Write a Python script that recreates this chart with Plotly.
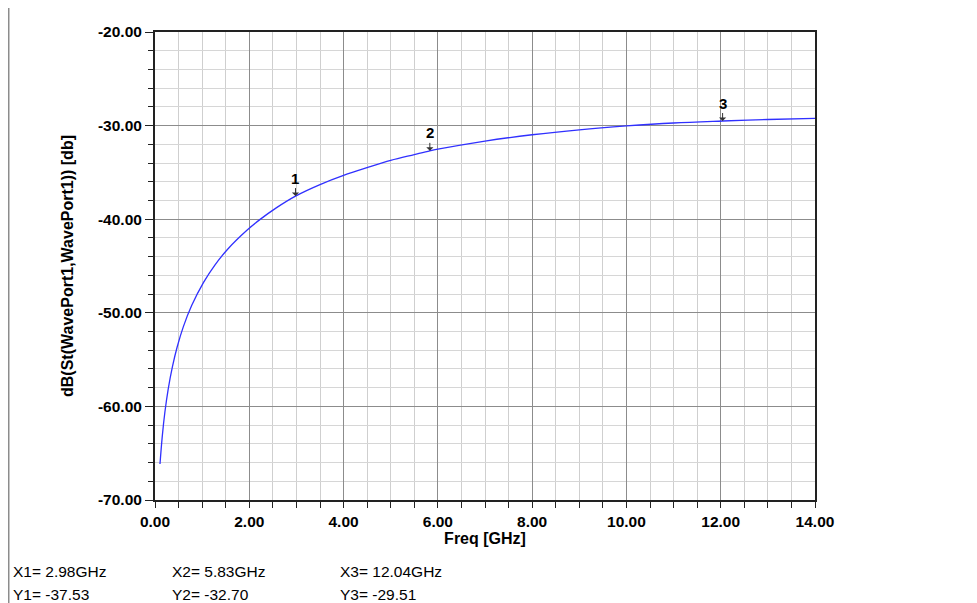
import plotly.graph_objects as go

# S11 sweep
freq_ghz = [0.106, 0.155, 0.21, 0.28, 0.37, 0.47, 0.6, 0.78, 1.03, 1.27, 1.56, 1.95, 2.23, 2.58, 2.98,
            3.5, 4.0, 4.5, 5.0, 5.5, 5.83, 6.0, 7.0, 8.0, 9.0, 10.0, 11.0, 12.04, 13.0, 14.0]
s11_db = [-66.15, -63.15, -60.6, -58.15, -55.75, -53.65, -51.5, -49.2, -46.75, -44.9, -43.1, -41.18, -40.02, -38.76, -37.53,
          -36.3, -35.32, -34.49, -33.72, -33.1, -32.70, -32.52, -31.65, -30.98, -30.45, -30.04, -29.72, -29.51, -29.35, -29.22]

# markers
marker_names = ["1", "2", "3"]
marker_x = [2.98, 5.83, 12.04]
marker_y = [-37.53, -32.70, -29.51]

# tick labels (HFSS uses a plain hyphen for the minus sign)
x_ticks = [0, 2, 4, 6, 8, 10, 12, 14]
x_ticklabels = ["0.00", "2.00", "4.00", "6.00", "8.00", "10.00", "12.00", "14.00"]
y_ticks = [-70, -60, -50, -40, -30, -20]
y_ticklabels = ["-70.00", "-60.00", "-50.00", "-40.00", "-30.00", "-20.00"]

fig = go.Figure()
fig.add_trace(go.Scatter(x=freq_ghz, y=s11_db, mode="lines", line_shape="spline",
                         line=dict(color="#3030ff", width=1.3), showlegend=False))

font_name = "Liberation Sans, Arial"
tick_font = dict(family=font_name, size=15.5, color="black", weight="bold")
title_font = dict(family=font_name, size=16, color="black", weight="bold")

# marker labels with little arrows
for name, mx, my in zip(marker_names, marker_x, marker_y):
    fig.add_annotation(x=mx, y=my, text=name, showarrow=True, arrowhead=1, arrowsize=1.2,
                       arrowwidth=1, arrowcolor="#333", ax=0, ay=-18,
                       font=dict(family=font_name, size=15, color="black", weight="bold"))

# marker readout table under the chart
col_x = [-0.2182, 0.023, 0.277]
for i in range(3):
    fig.add_annotation(xref="paper", yref="paper", x=col_x[i], y=-0.175, xanchor="left",
                       text=f"X{i+1}= {marker_x[i]:.2f}GHz", showarrow=False,
                       font=dict(family=font_name, size=15.5, color="black"))
    fig.add_annotation(xref="paper", yref="paper", x=col_x[i], y=-0.224, xanchor="left",
                       text=f"Y{i+1}= {marker_y[i]:.2f}", showarrow=False,
                       font=dict(family=font_name, size=15.5, color="black"))

# window frame lines
fig.add_shape(type="line", xref="paper", yref="paper", x0=-0.2216, x1=-0.2216, y0=-0.22, y1=1.052,
              line=dict(color="#8c8c8c", width=1.5))
fig.add_shape(type="line", xref="paper", yref="paper", x0=1.2424, x1=1.2424, y0=-0.22, y1=1.052,
              line=dict(color="#8c8c8c", width=4))

fig.update_xaxes(range=[0, 14], tickvals=x_ticks, ticktext=x_ticklabels, tickfont=tick_font, automargin=False,
                 title=dict(text="Freq [GHz]", standoff=4, font=title_font),
                 showgrid=True, gridcolor="#8c8c8c", gridwidth=1,
                 ticks="outside", ticklen=6, tickcolor="#222",
                 minor=dict(dtick=0.5, showgrid=True, gridcolor="#cfcfcf", ticks="outside",
                            ticklen=6, tickcolor="#222"),
                 showline=True, linecolor="#222", linewidth=2, mirror=True, zeroline=False)
fig.update_yaxes(range=[-70, -20], tickvals=y_ticks, ticktext=y_ticklabels, tickfont=tick_font, automargin=False,
                 title=dict(text="dB(St(WavePort1,WavePort1)) [db]", standoff=20, font=title_font),
                 showgrid=True, gridcolor="#8c8c8c", gridwidth=1,
                 ticks="outside", ticklen=8, tickcolor="#222",
                 minor=dict(dtick=2, showgrid=True, gridcolor="#d6d6d6", ticks="outside",
                            ticklen=5, tickcolor="#222"),
                 showline=True, linecolor="#222", linewidth=2, mirror=True, zeroline=False)

# page body has an 8px margin, so the figure is a bit smaller than the window
fig.update_layout(width=969, height=595, plot_bgcolor="white", paper_bgcolor="white",
                  margin=dict(l=147, r=162, t=24, b=103, autoexpand=False))

fig.write_html("out.html")
